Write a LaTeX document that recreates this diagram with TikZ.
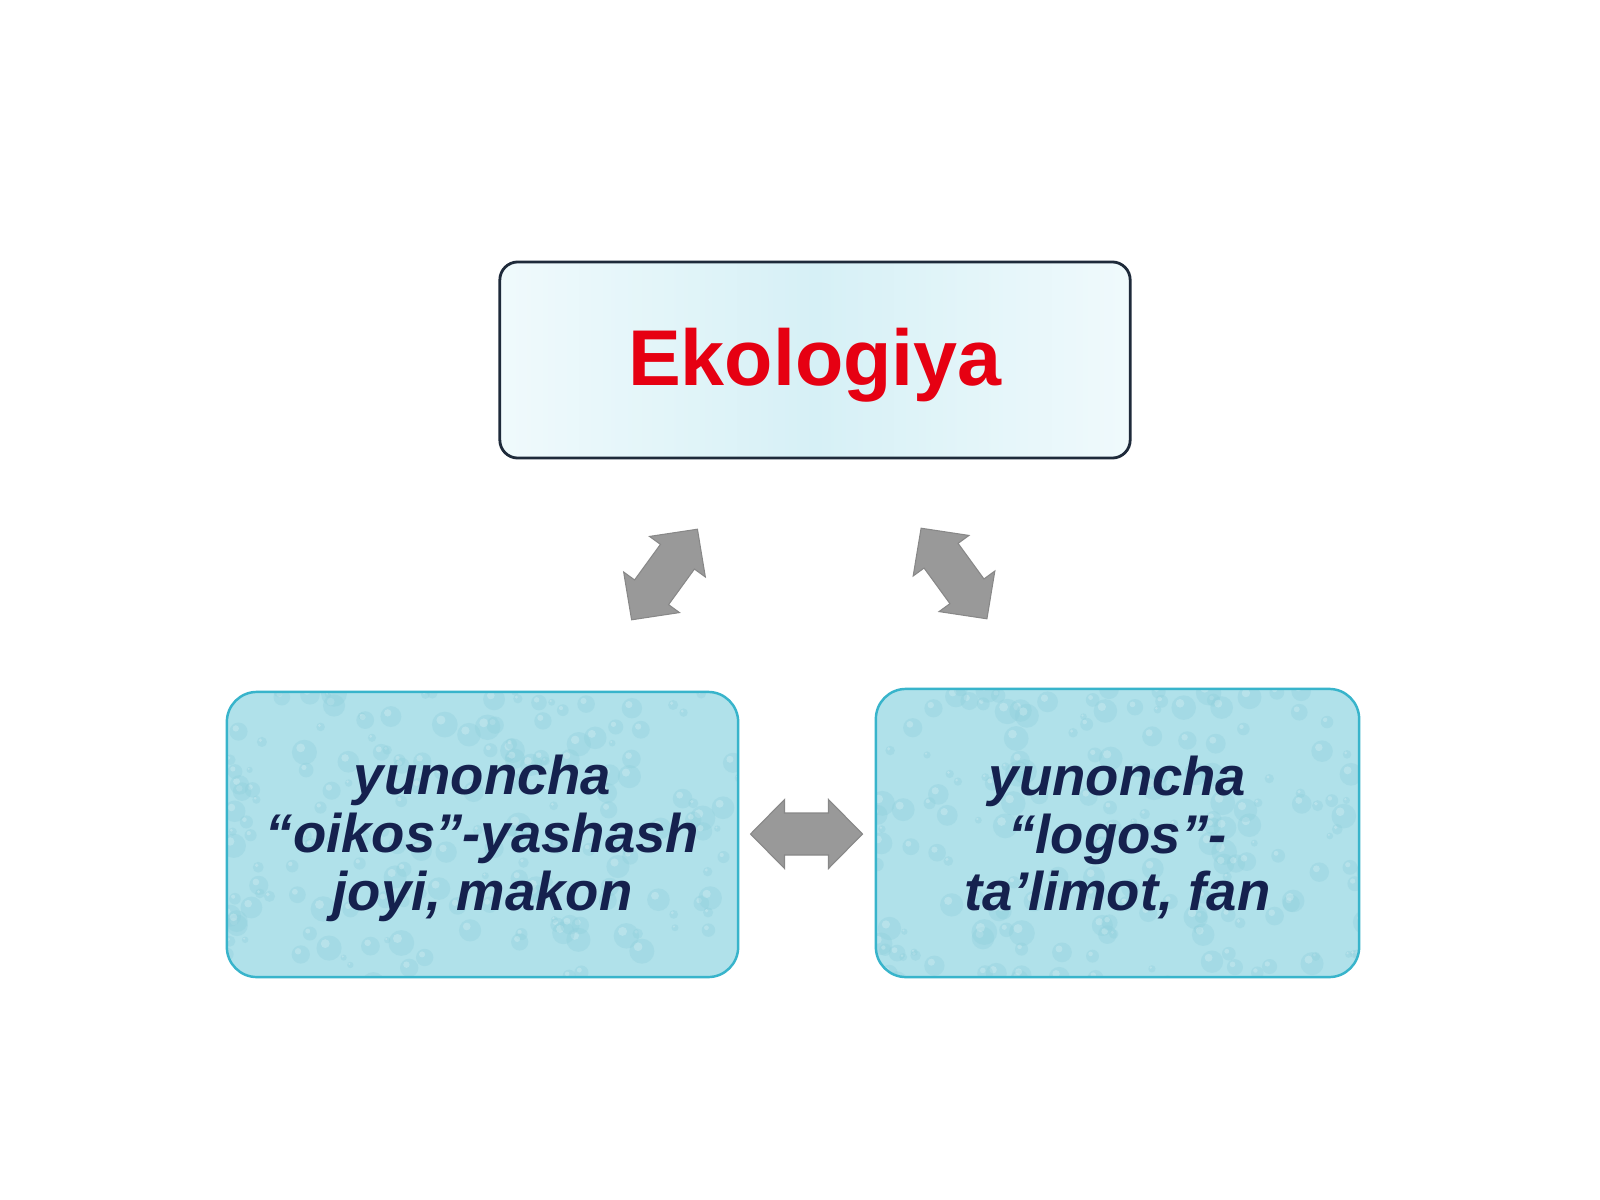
\documentclass[tikz,border=0pt]{standalone}
\usepackage{fontspec}
\setmainfont{Liberation Sans}
\usetikzlibrary{calc}
\definecolor{topborder}{HTML}{1E2A3A}
\definecolor{topedge}{HTML}{F0FAFC}
\definecolor{topmid}{HTML}{D6F0F6}
\definecolor{ekored}{HTML}{E60012}
\definecolor{lowbase}{HTML}{B0E1EA}
\definecolor{lowborder}{HTML}{38B4CB}
\definecolor{dropdark}{HTML}{8FCFDC}
\definecolor{navytext}{HTML}{15214E}
\definecolor{arrowgray}{HTML}{999999}
\definecolor{arrowedge}{HTML}{888888}
\tikzset{
  topbox/.style={draw=topborder, line width=0.8pt, rounded corners=0.18cm,
    left color=topedge, right color=topedge, middle color=topmid,
    minimum width=6.3cm, minimum height=1.96cm, inner sep=0pt},
  toptext/.style={inner sep=0pt, text=ekored, font=\fontsize{22.5}{27}\selectfont\bfseries},
  lowbox/.style={draw=lowborder, line width=0.7pt, rounded corners=0.3cm,
    fill=lowbase, inner sep=0pt,
    path picture={
      \pgfmathsetseed{#1}
      \foreach \i in {1,...,190}{
        \pgfmathsetmacro\px{rnd*520}
        \pgfmathsetmacro\py{rnd*300}
        \pgfmathsetmacro\pr{3+rnd*10}
        \fill[dropdark, opacity=0.35] ([shift={(\px,\py)}]path picture bounding box.north west) circle[radius=\pr];
        \fill[white, opacity=0.22] ([shift={(\px-0.3*\pr,\py-0.35*\pr)}]path picture bounding box.north west) circle[radius=0.35*\pr];
      }
    }},
  lowtext/.style={inner sep=0pt, align=center, text=navytext,
    font=\fontsize{15.5}{16.4}\selectfont\bfseries\itshape},
  grayarrow/.style={fill=arrowgray, draw=arrowedge, line width=0.3pt, line join=miter}
}
\begin{document}
\begin{tikzpicture}[x=0.01cm,y=-0.01cm]
\useasboundingbox (0,0) rectangle (1600,1200);
\fill[white] (0,0) rectangle (1600,1200);

\node[topbox] (eko) at (815,360) {};
\node[toptext] (ekotext) at ([yshift=-1.4pt]eko.center) {Ekologiya};

\node[lowbox=11, minimum width=5.11cm, minimum height=2.85cm] (oikos) at (482.5,834.5) {};
\node[lowtext] (oikostext) at ([yshift=-1.1pt]oikos.center) {yunoncha\\“oikos”-yashash\\joyi, makon};
\node[lowbox=23, minimum width=4.83cm, minimum height=2.88cm] (logos) at (1117.5,833) {};
\node[lowtext] (logostext) at ([yshift=-1.3pt]logos.center) {yunoncha\\“logos”-\\ta’limot, fan};

% double arrows
\coordinate (aleft) at (664.5,574.5);
\coordinate (aright) at (954,573.5);
\coordinate (amid) at (806.5,834);
\foreach \c/\r in {aleft/54, aright/-54, amid/0}{
  \begin{scope}[shift={(\c)}, rotate=\r]
    \path[grayarrow] (-56,0) -- (-22,34.5) -- (-22,21) -- (22,21) -- (22,34.5)
      -- (56,0) -- (22,-34.5) -- (22,-21) -- (-22,-21) -- (-22,-34.5) -- cycle;
  \end{scope}
}
\end{tikzpicture}
\end{document}
